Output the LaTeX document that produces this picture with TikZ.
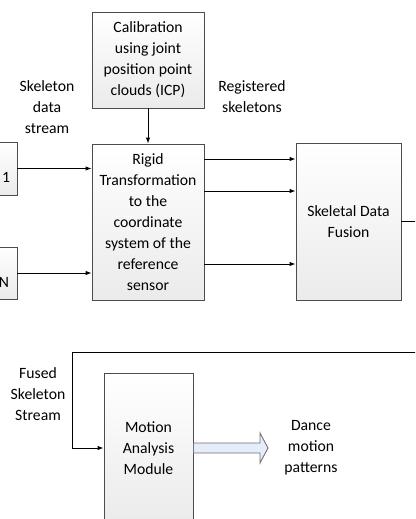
\documentclass[tikz,border=0pt]{standalone}
\usepackage{fontspec}
\setmainfont{Carlito}
\usetikzlibrary{positioning,arrows.meta,shadows}

\definecolor{outfill}{RGB}{228,237,249}
\tikzset{
  procbox/.style={draw=black!70,line width=0.9pt,top color=white,bottom color=black!8,
    inner sep=0pt,align=center,
    drop shadow={shadow xshift=1.1pt,shadow yshift=-1.1pt,opacity=0.3,fill=black!60}},
  flow/.style={line width=0.9pt,-{Latex[length=6pt,width=4.5pt]}},
  lbl/.style={align=center,inner sep=0pt}
}

\begin{document}
\begin{tikzpicture}[x=1pt,y=-1pt,font=\fontsize{15.7}{21}\selectfont]
\useasboundingbox (0,0) rectangle (415,519);
\clip (0,0) rectangle (415,519);
\fill[white] (0,0) rectangle (415,519);
% processing blocks
\node[procbox,minimum width=112,minimum height=96] (calib) at (148,60)
  {Calibration\\using joint\\position point\\clouds (ICP)};
\node[procbox,minimum width=112,minimum height=156] (rigid) at (148,222)
  {Rigid\\Transformation\\to the\\coordinate\\system of the\\reference\\sensor};
\node[procbox,minimum width=105,minimum height=157] (fusion) at (348.5,221.5)
  {Skeletal Data\\Fusion};
\node[procbox,minimum width=89,minimum height=150] (motion) at (148.5,448)
  {Motion\\Analysis\\Module};
% sensors (cut at the left edge)
\node[procbox,minimum width=60,minimum height=53] (sensA) at (-13,168.5) {};
\node[procbox,minimum width=60,minimum height=52] (sensN) at (-13,273) {};
\node[lbl] (sensAlbl) at (6,177) {1};
\node[lbl] (sensNlbl) at (4,282) {N};
% labels
\node[lbl] (streamlbl) at (47,107) {Skeleton\\data\\stream};
\node[lbl] (reglbl) at (252,96.5) {Registered\\skeletons};
\node[lbl] (fusedlbl) at (38,394) {Fused\\Skeleton\\Stream};
\node[lbl] (dancelbl) at (311,448) {Dance\\motion\\patterns};
% connectors
\draw[flow] (calib) -- (rigid);
\draw[flow] (sensA.east) -- (sensA.east -| rigid.west);
\draw[flow] (sensN.east) -- (sensN.east -| rigid.west);
\foreach \yy in {159,191,264}
  \draw[flow] (rigid.east |- 0,\yy) -- (fusion.west |- 0,\yy);
\coordinate (turn) at (72,352);
\draw[flow] (fusion.east) -- ++(40,0) |- (turn) |- (motion.west);
% output arrow
\draw[draw=black!55,line width=0.9pt,fill=outfill,line join=miter]
  (motion.east |- 0,443) -- (260,443) -- (260,433) -- (268,448)
  -- (260,463) -- (260,453) -- (motion.east |- 0,453) -- cycle;
\end{tikzpicture}
\end{document}
